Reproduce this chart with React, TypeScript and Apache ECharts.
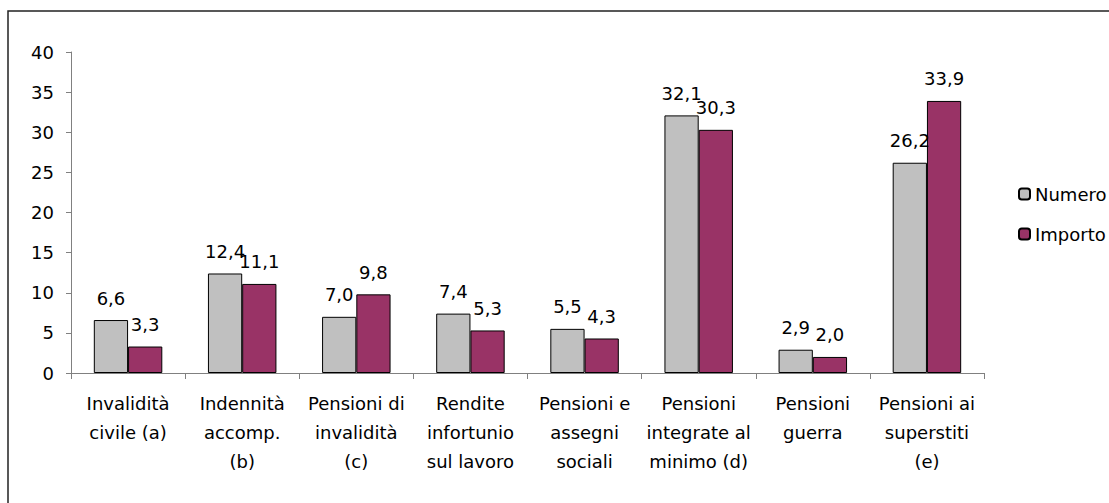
import React, { useEffect, useRef } from "react";
import * as echarts from "echarts";

const categories = [
  "Invalidità\ncivile (a)",
  "Indennità\naccomp.\n(b)",
  "Pensioni di\ninvalidità\n(c)",
  "Rendite\ninfortunio\nsul lavoro",
  "Pensioni e\nassegni\nsociali",
  "Pensioni\nintegrate al\nminimo (d)",
  "Pensioni\nguerra",
  "Pensioni ai\nsuperstiti\n(e)",
];
const numero = [6.6, 12.4, 7.0, 7.4, 5.5, 32.1, 2.9, 26.2];
const importo = [3.3, 11.1, 9.8, 5.3, 4.3, 30.3, 2.0, 33.9];

const FONT = "DejaVu Sans";
const FS = 18;

export default function App() {
  const ref = useRef<HTMLDivElement>(null);
  useEffect(() => {
    if (!ref.current) return;
    const chart = echarts.init(ref.current, null, { renderer: "svg" });
    const fmt = (p: any) => Number(p.value).toFixed(1).replace(".", ",");
    const label = {
      show: true,
      position: "top" as const,
      distance: 13,
      formatter: fmt,
      color: "#000",
      fontFamily: FONT,
      fontSize: FS,
    };
    chart.setOption({
      animation: false,
      backgroundColor: "#fff",
      textStyle: { fontFamily: FONT },
      graphic: [
        {
          type: "rect",
          shape: { x: 8, y: 11, width: 1200, height: 600 },
          style: { fill: "none", stroke: "#222", lineWidth: 1.5 },
          silent: true,
        },
      ],
      grid: { left: 71, right: 125, top: 52, bottom: 130 },
      legend: {
        orient: "vertical",
        left: 1013,
        top: 180,
        itemWidth: 11,
        itemHeight: 11,
        itemGap: 22,
        textStyle: { fontFamily: FONT, fontSize: FS, color: "#000" },
        data: ["Numero", "Importo"],
      },
      xAxis: {
        type: "category",
        data: categories,
        axisLine: { lineStyle: { color: "#808080", width: 1 } },
        axisTick: { show: true, length: 6, lineStyle: { color: "#808080" } },
        axisLabel: {
          interval: 0,
          margin: 16,
          color: "#000",
          fontFamily: FONT,
          fontSize: FS,
          lineHeight: 29,
        },
      },
      yAxis: {
        type: "value",
        min: 0,
        max: 40,
        interval: 5,
        splitLine: { show: false },
        axisLine: { show: true, lineStyle: { color: "#808080", width: 1 } },
        axisTick: { show: true, length: 5, lineStyle: { color: "#808080" } },
        axisLabel: { margin: 17, color: "#000", fontFamily: FONT, fontSize: FS },
      },
      series: [
        {
          name: "Numero",
          type: "bar",
          data: numero,
          barGap: "0%",
          barCategoryGap: "40%",
          itemStyle: { color: "#C0C0C0", borderColor: "#000", borderWidth: 1 },
          label,
        },
        {
          name: "Importo",
          type: "bar",
          data: importo,
          itemStyle: { color: "#993366", borderColor: "#000", borderWidth: 1 },
          label,
        },
      ],
    });
    return () => chart.dispose();
  }, []);
  return (
    <div
      ref={ref}
      style={{ position: "fixed", left: 0, top: 0, width: 1109, height: 503 }}
    />
  );
}
